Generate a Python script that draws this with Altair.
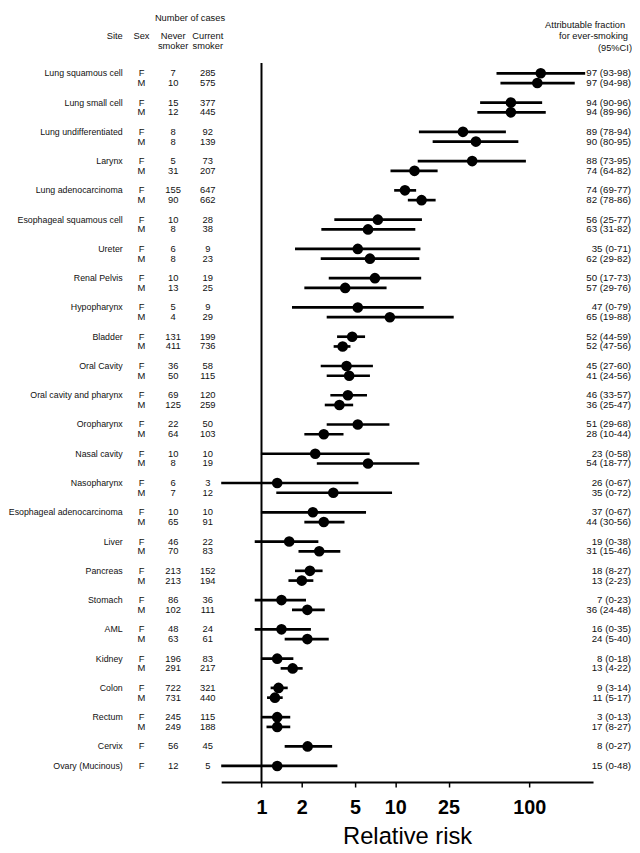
import altair as alt
import pandas as pd

# ---------------- data ----------------
sites = ["Lung squamous cell", "Lung small cell", "Lung undifferentiated", "Larynx",
         "Lung adenocarcinoma", "Esophageal squamous cell", "Ureter", "Renal Pelvis",
         "Hypopharynx", "Bladder", "Oral Cavity", "Oral cavity and pharynx", "Oropharynx",
         "Nasal cavity", "Nasopharynx", "Esophageal adenocarcinoma", "Liver", "Pancreas",
         "Stomach", "AML", "Kidney", "Colon", "Rectum", "Cervix", "Ovary (Mucinous)"]
site_sexes = [["F", "M"]] * 23 + [["F"], ["F"]]

never_smoker = [7, 10, 15, 12, 8, 8, 5, 31, 155, 90, 10, 8, 6, 8, 10, 13, 5, 4, 131, 411,
                36, 50, 69, 125, 22, 64, 10, 8, 6, 7, 10, 65, 46, 70, 213, 213, 86, 102,
                48, 63, 196, 291, 722, 731, 245, 249, 56, 12]
current_smoker = [285, 575, 377, 445, 92, 139, 73, 207, 647, 662, 28, 38, 9, 23, 19, 25, 9, 29,
                  199, 736, 58, 115, 120, 259, 50, 103, 10, 19, 3, 12, 10, 91, 22, 83, 152, 194,
                  36, 111, 24, 61, 83, 217, 321, 440, 115, 188, 45, 5]
rr = [122, 115, 73, 73, 32, 40, 37.5, 13.9, 11.8, 15.7, 7.4, 6.25, 5.24, 6.46, 7.04, 4.22,
      5.24, 9.1, 4.76, 4.04, 4.32, 4.52, 4.42, 3.82, 5.24, 2.92, 2.52, 6.25, 1.31, 3.44,
      2.42, 2.92, 1.61, 2.70, 2.30, 2.0, 1.41, 2.20, 1.41, 2.2, 1.31, 1.71, 1.34, 1.26,
      1.31, 1.31, 2.21, 1.31]
ci_low = [57, 61, 43, 41, 15, 19, 14.7, 9.2, 9.8, 12.4, 3.5, 2.8, 1.78, 2.77, 3.18, 2.09,
          1.69, 3.07, 3.67, 3.46, 2.77, 3.07, 3.27, 2.97, 3.07, 2.09, 0.99, 2.59, 0.5, 1.29,
          0.99, 2.09, 0.89, 1.89, 1.78, 1.59, 0.89, 1.69, 0.89, 1.49, 0.99, 1.39, 1.17, 1.10,
          0.99, 1.09, 1.49, 0.5]
ci_high = [262, 219, 125, 133, 67, 83, 94.5, 20.7, 14.3, 20.0, 15.8, 14.1, 15.4, 15.1, 15.6,
           8.6, 16.3, 27.3, 5.94, 4.62, 6.8, 6.46, 6.14, 4.84, 9.03, 4.1, 6.43, 15.1, 5.3,
           9.45, 6.04, 4.17, 2.66, 3.88, 2.86, 2.44, 2.15, 2.97, 2.34, 3.18, 1.73, 2.03,
           1.57, 1.44, 1.64, 1.64, 3.37, 3.69]
af_text = ["97 (93-98)", "97 (94-98)", "94 (90-96)", "94 (89-96)", "89 (78-94)", "90 (80-95)",
           "88 (73-95)", "74 (64-82)", "74 (69-77)", "82 (78-86)", "56 (25-77)", "63 (31-82)",
           "35 (0-71)", "62 (29-82)", "50 (17-73)", "57 (29-76)", "47 (0-79)", "65 (19-88)",
           "52 (44-59)", "52 (47-56)", "45 (27-60)", "41 (24-56)", "46 (33-57)", "36 (25-47)",
           "51 (29-68)", "28 (10-44)", "23 (0-58)", "54 (18-77)", "26 (0-67)", "35 (0-72)",
           "37 (0-67)", "44 (30-56)", "19 (0-38)", "31 (15-46)", "18 (8-27)", "13 (2-23)",
           "7 (0-23)", "36 (24-48)", "16 (0-35)", "24 (5-40)", "8 (0-18)", "13 (4-22)",
           "9 (3-14)", "11 (5-17)", "3 (0-13)", "17 (8-27)", "8 (0-27)", "15 (0-48)"]
tick_values = [1, 2, 5, 10, 25, 100]

# ---------------- table ----------------
rows = []
line = 0
k = 0
for site, sexes in zip(sites, site_sexes):
    for j, sex in enumerate(sexes):
        rows.append(dict(line=line, site=site if j == 0 else "", sex=sex,
                         never=str(never_smoker[k]), current=str(current_smoker[k]),
                         rr=rr[k], lo=ci_low[k], hi=ci_high[k], af=af_text[k]))
        line += 1
        k += 1
    line += 1
df = pd.DataFrame(rows)
last_line = df["line"].max()

W, H = 630, 777
FONT = "Liberation Sans"

xscale = alt.Scale(type="log", domain=[0.5, 300], range=[215.6, 591.6])
yscale = alt.Scale(domain=[0, last_line], range=[60.3, 760.7])

base = alt.Chart(df)
yenc = alt.Y("line:Q", scale=yscale, axis=None)

ci = base.mark_rule(color="black", strokeWidth=2.7).encode(
    x=alt.X("lo:Q", scale=xscale,
            axis=alt.Axis(values=tick_values, format="d", title="Relative risk",
                          grid=False, domainColor="black", domainWidth=2,
                          tickColor="black", tickWidth=1.5, tickSize=5,
                          labelFont=FONT, labelFontSize=20, labelFontWeight="bold",
                          labelColor="black", labelPadding=11, labelFlush=False,
                          titleFont=FONT, titleFontSize=24, titleFontWeight="normal",
                          titleColor="black", titlePadding=7)),
    x2="hi:Q", y=yenc)

pts = base.mark_circle(color="black", opacity=1, size=115).encode(
    x=alt.X("rr:Q", scale=xscale), y=yenc)

ref = alt.Chart(pd.DataFrame({"v": [1]})).mark_rule(color="black", strokeWidth=2).encode(
    x=alt.X("v:Q", scale=xscale), y=alt.value(50), y2=alt.value(H))

def col(field, xpos, align, size):
    return base.mark_text(align=align, baseline="middle", font=FONT, fontSize=size,
                          color="#111").encode(x=alt.value(xpos), y=yenc, text=f"{field}:N")

site_t = col("site", 116, "right", 8.9)
sex_t = col("sex", 135, "center", 9.5)
never_t = col("never", 167, "center", 9.5)
cur_t = col("current", 202, "center", 9.5)
af_t = col("af", 630, "right", 9.8)

def hdr(text, xpos, ypos, align="center", baseline="middle", size=9.4, lh=10.7):
    return alt.Chart(pd.DataFrame({"a": [0]})).mark_text(
        align=align, baseline=baseline, font=FONT, fontSize=size, color="#111",
        lineBreak="\n", lineHeight=lh).encode(
        x=alt.value(xpos), y=alt.value(ypos), text=alt.value(text))

headers = [
    hdr("Number of cases", 184, 0, baseline="top"),
    hdr("Site", 116, 22.7, align="right"),
    hdr("Sex", 135, 22.7),
    hdr("Never\nsmoker", 167, 22.3),
    hdr("Current\nsmoker", 202, 22.3),
    hdr("Attributable fraction", 624, 11, align="right"),
    hdr("for ever-smoking", 627, 23, align="right"),
    hdr("(95%CI)", 631, 34.7, align="right"),
]

chart = alt.layer(ref, ci, pts, site_t, sex_t, never_t, cur_t, af_t, *headers).properties(
    width=W, height=H, padding=0, background="white"
).configure_view(stroke=None)

chart.save("out.html", embed_options={"renderer": "svg", "actions": False})
